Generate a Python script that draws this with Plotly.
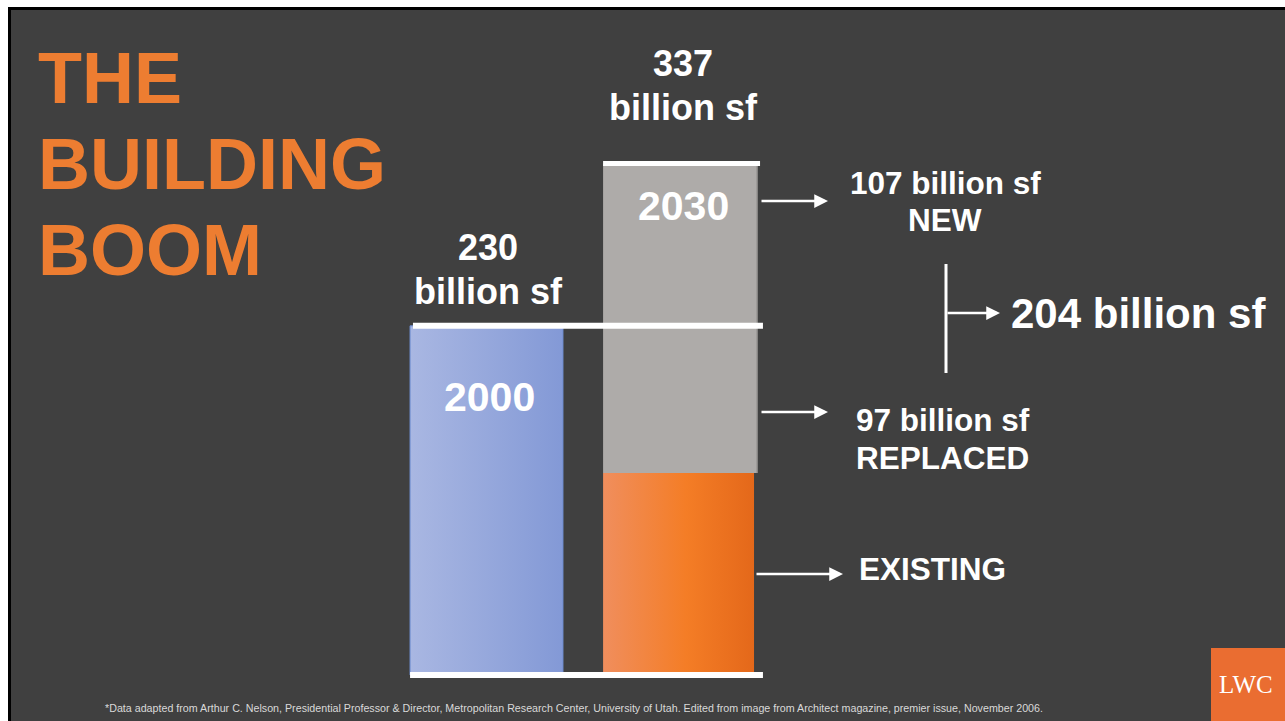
import plotly.graph_objects as go

W, H = 1285, 721

# ---- data -------------------------------------------------------------
years = ["2000", "2030"]
total_2000 = 230                       # billion sf standing in 2000
segments_2030 = ["EXISTING", "REPLACED", "NEW"]
values_2030 = [133, 97, 107]           # billion sf, stacked bottom -> top
title_lines = ["THE", "BUILDING", "BOOM"]
unit = "billion sf"
footnote = ("*Data adapted from Arthur C. Nelson, Presidential Professor & Director, "
            "Metropolitan Research Center, University of Utah. Edited from image from "
            "Architect magazine, premier issue, November 2006.")

existing, replaced, new = values_2030
total_2030 = sum(values_2030)
rebuilt = replaced + new

# ---- style ------------------------------------------------------------
ORANGE = "#ED7D31"
BG = "#404040"
FONT = "Liberation Sans, Arial, sans-serif"
SERIF = "Liberation Serif, Times New Roman, serif"

# axis scaling: 1 unit of y ~ 1.518 px, baseline at 675 px from top;
# bar slots 194 px apart, first slot centred at 486.5 px
PX_PER_UNIT = 1.518
BASE_PX = 675
y_range = [-(H - BASE_PX) / PX_PER_UNIT, BASE_PX / PX_PER_UNIT]
X_STEP = 194
X0_PX = 486.5
x_range = [-X0_PX / X_STEP, (W - X0_PX) / X_STEP]


def px(x):
    return x / W


def py(y):
    return 1 - y / H


def bar(x0, x1, lo, hi, colorscale, line_color=None):
    return go.Scatter(
        x=[x0, x1, x1, x0, x0], y=[lo, lo, hi, hi, lo],
        mode="lines", fill="toself",
        line=dict(width=1 if line_color else 0,
                  color=line_color or "rgba(0,0,0,0)"),
        fillgradient=dict(type="horizontal", colorscale=colorscale),
        hoverinfo="skip", showlegend=False,
    )


def rule(x0, x1, v, width, color="white"):
    return go.Scatter(x=[x0, x1], y=[v, v], mode="lines",
                      line=dict(color=color, width=width),
                      hoverinfo="skip", showlegend=False)


fig = go.Figure()

# 2000 bar
fig.add_trace(bar(-0.394, 0.394, 0, total_2000,
                  [[0, "#A9B7E2"], [1, "#8399D6"]], line_color="#7090D6"))
# 2030 stacked bar: existing (orange), replaced + new (grey)
fig.add_trace(bar(0.601, 1.379, 0, existing,
                  [[0, "#F08E5D"], [0.55, "#F47D26"], [1, "#E4681A"]]))
fig.add_trace(bar(0.601, 1.399, existing, total_2030,
                  [[0, "#AEABA9"], [0.985, "#AEABA9"], [1, "#858381"]]))

# white rules at baseline, 2000 total and 2030 total
fig.add_trace(rule(-0.394, 1.425, 0, 6))
fig.add_trace(rule(-0.379, 1.425, total_2000, 6))
fig.add_trace(rule(0.601, 1.41, total_2030, 5))

ann = []


def text(x, y, s, size, color="white", bold=True, xanchor="center", family=FONT):
    ann.append(dict(x=px(x), y=py(y), xref="paper", yref="paper",
                    text=f"<b>{s}</b>" if bold else s, showarrow=False,
                    xanchor=xanchor, yanchor="middle",
                    font=dict(family=family, size=size, color=color)))


def arrow(x_tail, x_head, y):
    ann.append(dict(x=px(x_head), y=py(y), xref="paper", yref="paper",
                    ax=x_tail - x_head, ay=0, text="", showarrow=True,
                    arrowhead=2, arrowsize=1.1, arrowwidth=2.5,
                    arrowcolor="white"))


# title
for line, yc in zip(title_lines, [78, 164, 250]):
    text(36, yc, line, 72, color=ORANGE, xanchor="left")

# totals above bars
text(683, 64, f"{total_2030}", 36)
text(683, 108, unit, 36)
text(488, 247, f"{total_2000}", 36)
text(488, 291, unit, 36)

# year labels inside bars
text(683, 206, years[1], 41)
text(489, 397, years[0], 41)

# segment call-outs
arrow(760, 828, 201)
text(945, 183, f"{new} {unit}", 31.5)
text(945, 220, segments_2030[2], 31.5)

arrow(760, 828, 412)
text(943, 420, f"{replaced} {unit}", 31.5)
text(943, 458, segments_2030[1], 31.5)

arrow(755, 843, 574)
text(932, 569, segments_2030[0], 31.5)

arrow(946, 1000, 313)
text(1138, 313, f"{rebuilt} {unit}", 42)

# footnote and logo
text(574, 708, footnote, 10.7, color="#D9D9D9", bold=False)
text(1246, 684, "LWC", 25, bold=False, family=SERIF)

fig.update_layout(annotations=ann)

shapes = [
    # slide panel with dark frame
    dict(type="rect", xref="paper", yref="paper", layer="below",
         x0=px(9.5), y0=py(730), x1=px(1295), y1=py(8.5),
         fillcolor=BG, line=dict(color="black", width=3)),
    # bracket spanning new + replaced
    dict(type="line", xref="paper", yref="paper",
         x0=px(946), x1=px(946), y0=py(264), y1=py(373),
         line=dict(color="white", width=3)),
    # logo tile
    dict(type="rect", xref="paper", yref="paper", layer="below",
         x0=px(1211), x1=px(1290), y0=py(730), y1=py(648),
         fillcolor="#EA6D31", line=dict(width=0)),
]

fig.update_layout(
    shapes=shapes,
    width=W, height=H,
    margin=dict(l=0, r=0, t=0, b=0),
    paper_bgcolor="white",
    plot_bgcolor="rgba(0,0,0,0)",
    showlegend=False,
    xaxis=dict(range=x_range, visible=False, fixedrange=True),
    yaxis=dict(range=y_range, visible=False, fixedrange=True),
)

fig.write_html("out.html", config={"displayModeBar": False})
